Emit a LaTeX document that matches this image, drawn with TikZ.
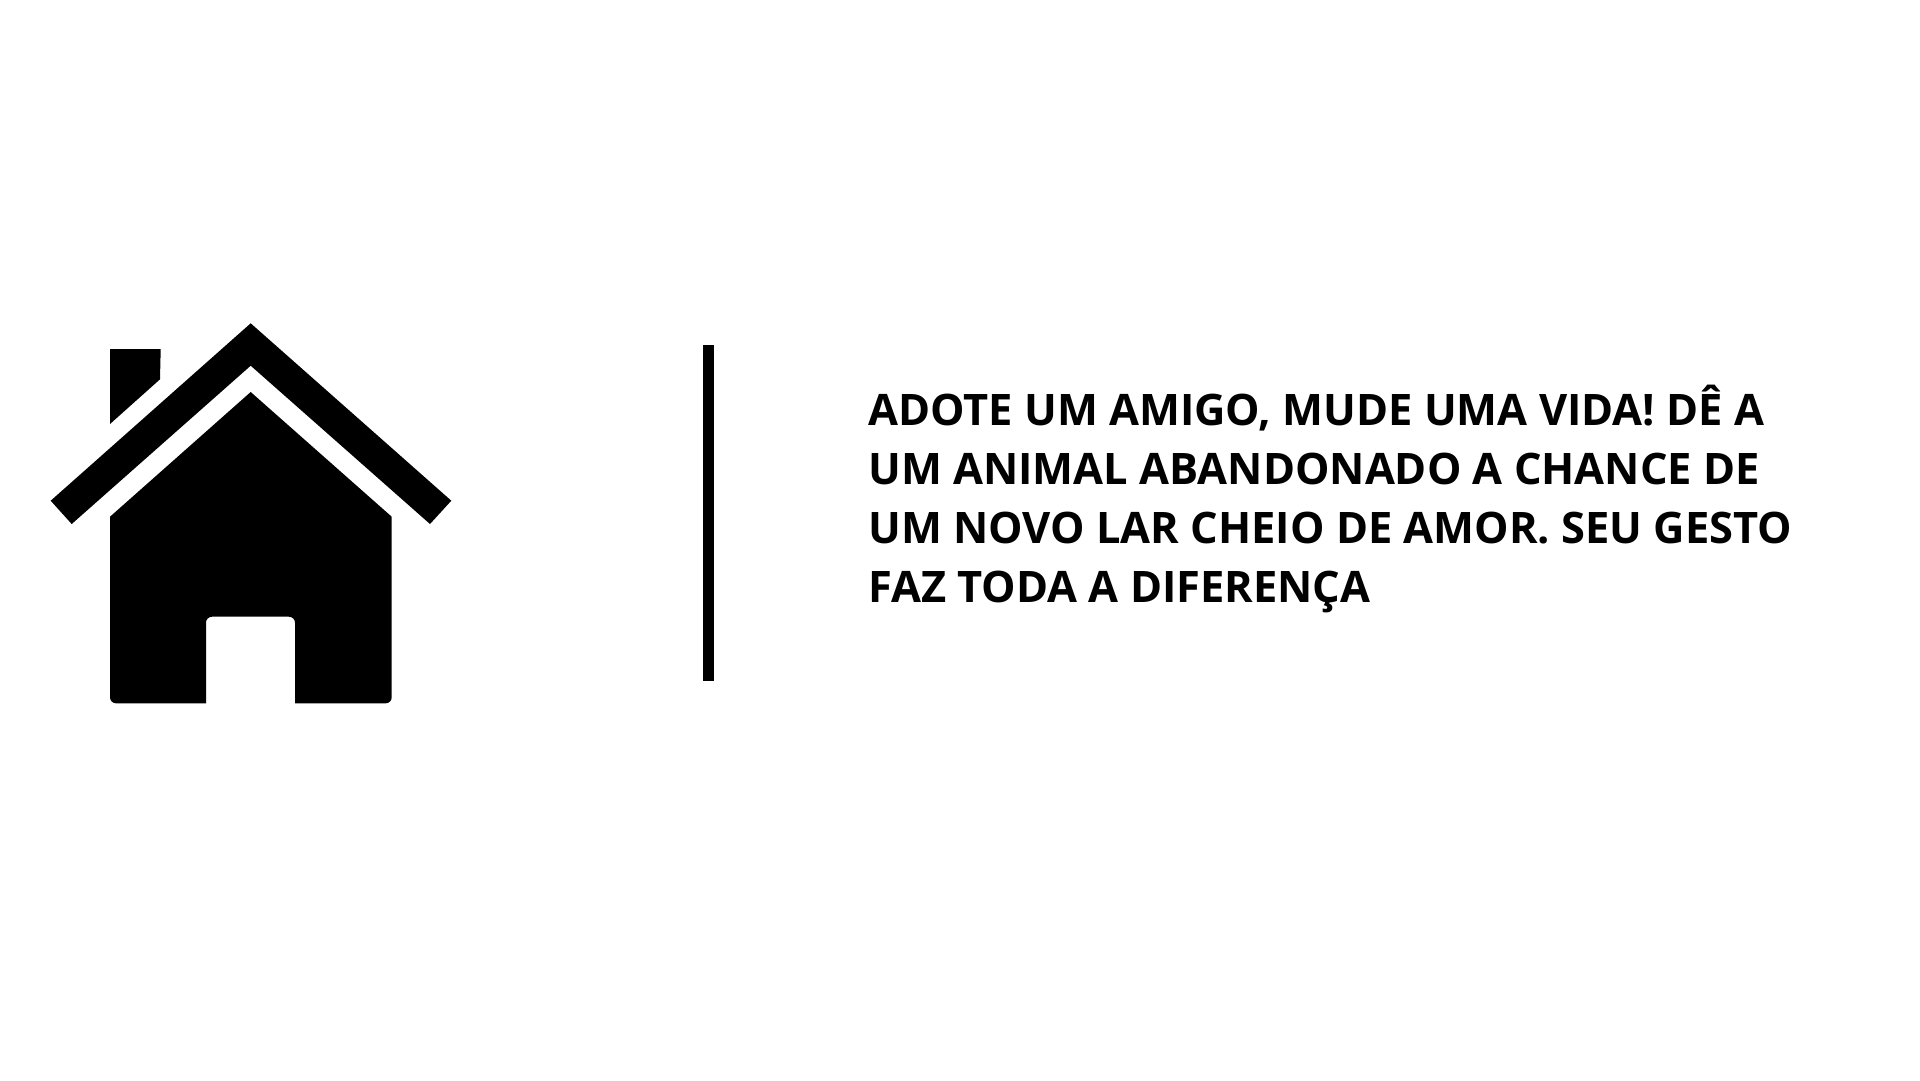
\documentclass[tikz,border=0pt]{standalone}
\usepackage{fontspec}
\setmainfont{Open Sans}
\usepackage{xcolor}
\usetikzlibrary{positioning}
\tikzset{
  solid fill/.style={fill=black,draw=none},
  slogan/.style={inner sep=0pt,anchor=north west,align=left,font=\fontsize{24.7pt}{33.46pt}\selectfont\bfseries},
}

\begin{document}
\begin{tikzpicture}[x=0.02cm,y=-0.02cm]
  \useasboundingbox (0,0) rectangle (1920,1080);
  \fill[white] (0,0) rectangle (1920,1080);
  % house
  \fill[solid fill] (250.7,323.3)--(451.3,500.7)--(430,524)--(250.7,365.7)--(71.7,524)--(50.7,500.7)--cycle;
  \fill[solid fill] (110,349)--(160.7,349)--(160,379.3)--(110,424)--cycle;
  \fill[solid fill] (250.7,392)--(391.7,516.7)[rounded corners=3.4pt]--(391.7,703.3)[sharp corners]--(295,703.3)[rounded corners=3.4pt]--(295,616.7)--(206,616.7)[sharp corners]--(206,703.3)[rounded corners=3.4pt]--(110,703.3)[sharp corners]--(110,516.7)--cycle;
  % bar
  \fill[solid fill] (703,345) rectangle (714,681);
  \node[slogan] (slogan) at (868,385){ADOTE UM AMIGO, MUDE UMA VIDA! DÊ A\\UM ANIMAL ABANDONADO A CHANCE DE\\UM NOVO LAR CHEIO DE AMOR. SEU GESTO\\FAZ TODA A DIFERENÇA};
\end{tikzpicture}
\end{document}
